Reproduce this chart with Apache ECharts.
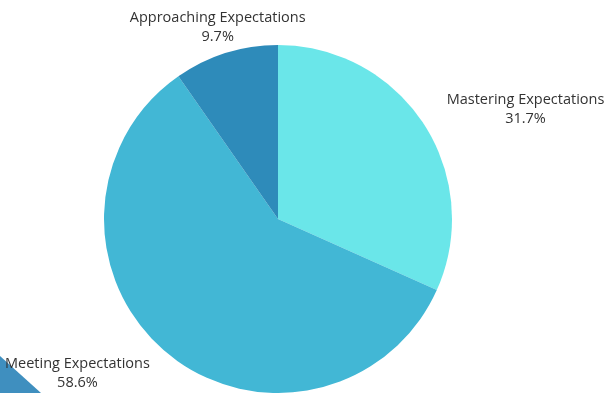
<!DOCTYPE html>
<html>
<head>
<meta charset="utf-8">
<script src="https://cdn.jsdelivr.net/npm/echarts@6/dist/echarts.min.js"></script>
<style>
  html, body { margin: 0; padding: 0; background: #ffffff; }
  #chart { width: 606px; height: 393px; }
</style>
</head>
<body>
<div id="chart"></div>
<script>
// Share of students by performance level
const categories = ['Mastering Expectations', 'Meeting Expectations', 'Approaching Expectations'];
const shares = [31.7, 58.6, 9.7];
const sliceColors = ['#6ae6e9', '#42b7d5', '#2e8bba'];

const center = [278, 219];
const radius = 174;
const labelRadius = 201;

const total = shares.reduce((a, b) => a + b, 0);

const chart = echarts.init(document.getElementById('chart'), null, { renderer: 'canvas' });

chart.setOption({
  animation: false,
  backgroundColor: '#ffffff',
  graphic: [{
    type: 'polygon',
    shape: { points: [[0, 356], [41, 393], [0, 393]] },
    style: { fill: '#3f8fbf' },
    z: 0
  }],
  series: [{
    type: 'pie',
    center: center,
    radius: radius,
    startAngle: 90,
    clockwise: true,
    z: 2,
    data: categories.map((name, i) => ({
      name: name,
      value: shares[i],
      itemStyle: { color: sliceColors[i] }
    })),
    label: {
      show: true,
      position: 'outside',
      formatter: '{b}\n{d}%',
      fontFamily: 'Open Sans',
      fontSize: 14.5,
      lineHeight: 19,
      color: '#333333',
      overflow: 'none'
    },
    labelLine: { show: false },
    emphasis: { disabled: true },
    labelLayout: function (params) {
      // angle of the slice middle, measured clockwise from 12 o'clock
      let before = 0;
      for (let k = 0; k < params.dataIndex; k++) before += shares[k];
      const mid = (before + shares[params.dataIndex] / 2) / total * Math.PI * 2;
      const s = Math.sin(mid), c = Math.cos(mid);
      const px = center[0] + s * labelRadius;
      const py = center[1] - c * labelRadius;
      const w = params.labelRect.width;
      let x = px;
      if (s > 0.5) x = px + w / 2;
      else if (s < -0.5) x = px - w / 2;
      return { x: x, y: py, align: 'center', verticalAlign: 'middle' };
    }
  }]
});
</script>
</body>
</html>
